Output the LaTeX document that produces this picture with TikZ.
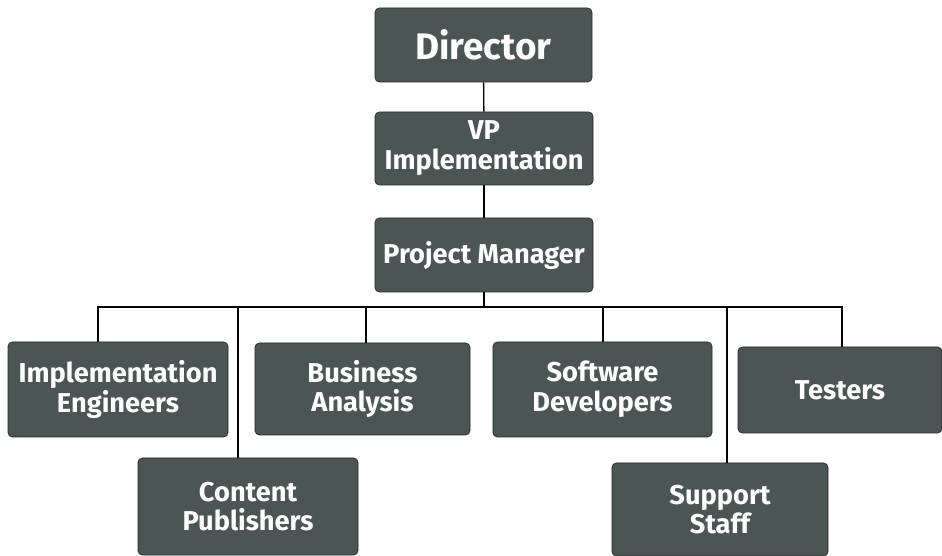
\documentclass[tikz,border=0pt]{standalone}
\usepackage{fontspec}
\setmainfont{Fira Sans}
\definecolor{boite}{RGB}{75,85,84}
\tikzset{poste/.style={draw=black!85,fill=boite,rounded corners=2.5pt,text=white,
    font=\bfseries\fontsize{15.5}{17}\selectfont,align=center,inner sep=0pt}}

\begin{document}
\begin{tikzpicture}
    \useasboundingbox (0,0) rectangle (18.84,-11.12);

    % Dessine la direction
    \node[poste,minimum width=4.34cm,minimum height=1.48cm,font=\bfseries\fontsize{21}{24}\selectfont] (dir) at (9.67,-0.90) {Director};
    \node[poste,minimum width=4.36cm,minimum height=1.46cm] (vp) at (9.68,-2.97) {VP\\Implementation};
    \node[poste,minimum width=4.36cm,minimum height=1.48cm] (pm) at (9.68,-5.10) {Project Manager};

    % Dessine les équipes
    \node[poste,minimum width=4.40cm,minimum height=1.90cm] (ie) at (2.36,-7.79) {Implementation\\Engineers};
    \node[poste,minimum width=4.40cm,minimum height=1.94cm] (cp) at (4.96,-10.13) {Content\\Publishers};
    \node[poste,minimum width=4.30cm,minimum height=1.84cm] (ba) at (7.25,-7.78) {Business\\Analysis};
    \node[poste,minimum width=4.38cm,minimum height=1.90cm] (sd) at (12.05,-7.79) {Software\\Developers};
    \node[poste,minimum width=4.32cm,minimum height=1.86cm] (ss) at (14.40,-10.19) {Support\\Staff};
    \node[poste,minimum width=4.08cm,minimum height=1.72cm] (t) at (16.80,-7.80) {Testers};

    % Dessine les liaisons
    \coordinate (bus) at (9.68,-6.14);
    \draw[thick] (dir) -- (vp);
    \draw[thick] (vp) -- (pm);
    \draw[thick] (pm) -- (bus);
    \foreach \n/\dx in {ie/-0.4,cp/-0.2,ba/0.07,sd/0.01,ss/0.14,t/0.04}
        \draw[thick] ([xshift=\dx cm]\n.north) |- (bus);
\end{tikzpicture}
\end{document}
